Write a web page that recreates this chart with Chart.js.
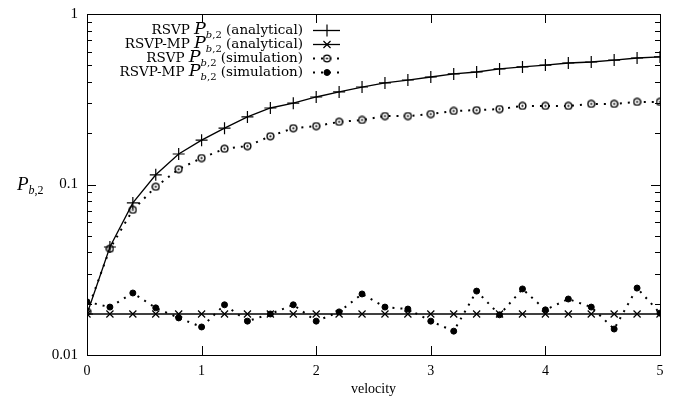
<!DOCTYPE html>
<html><head><meta charset="utf-8">
<script src="https://cdn.jsdelivr.net/npm/chart.js@4/dist/chart.umd.min.js"></script>
<style>html,body{margin:0;padding:0;background:#fff}#wrap{width:677px;height:398px;position:relative}</style>
</head><body><div id="wrap"><canvas id="c" width="677" height="398"></canvas></div>
<script>
const velocity = [0,0.2,0.4,0.6,0.8,1.0,1.2,1.4,1.6,1.8,2.0,2.2,2.4,2.6,2.8,3.0,3.2,3.4,3.6,3.8,4.0,4.2,4.4,4.6,4.8,5.0];
const rsvpAnalytical = [0.0174,0.043,0.078,0.114,0.151,0.182,0.214,0.249,0.281,0.300,0.326,0.349,0.373,0.394,0.410,0.427,0.445,0.457,0.476,0.489,0.502,0.516,0.523,0.537,0.552,0.560];
const rsvpMpAnalytical = [0.0174,0.0174,0.0174,0.0174,0.0174,0.0174,0.0174,0.0174,0.0174,0.0174,0.0174,0.0174,0.0174,0.0174,0.0174,0.0174,0.0174,0.0174,0.0174,0.0174,0.0174,0.0174,0.0174,0.0174,0.0174,0.0174];
const rsvpSimulation = [0.018,0.042,0.071,0.097,0.123,0.143,0.162,0.168,0.192,0.214,0.220,0.233,0.239,0.252,0.252,0.259,0.270,0.273,0.277,0.289,0.289,0.289,0.297,0.297,0.305,0.305];
const rsvpMpSimulation = [0.0205,0.0191,0.0231,0.0189,0.0165,0.0146,0.0197,0.0158,0.0174,0.0197,0.0158,0.0179,0.0228,0.0191,0.0186,0.0158,0.0138,0.0237,0.0172,0.0244,0.0184,0.0213,0.0191,0.0142,0.0247,0.0176];
const yTickValues = [0.01,0.1,1];
const yTickLabels = ['0.01','0.1','1'];
const xTickValues = [0,1,2,3,4,5];
const seriesNames = ['RSVP','RSVP-MP','RSVP','RSVP-MP'];
const seriesKinds = ['(analytical)','(analytical)','(simulation)','(simulation)'];

const SERIF = '"Liberation Serif","DejaVu Serif",serif';
const LSERIF = '"DejaVu Serif","Liberation Serif",serif';
const pts = arr => velocity.map((v,i)=>({x:v,y:arr[i]}));

// circle-with-dot marker
const ring = document.createElement('canvas');
ring.width = 9; ring.height = 9;
(()=>{const g=ring.getContext('2d');g.fillStyle='#fff';g.beginPath();g.arc(4.5,4.5,3.4,0,Math.PI*2);g.fill();
g.strokeStyle='#000';g.lineWidth=1.4;g.stroke();g.fillStyle='#000';g.beginPath();g.arc(4.5,4.5,1.1,0,Math.PI*2);g.fill();})();

const framePlugin = {
  id:'frame',
  afterDraw(chart){
    const ctx = chart.ctx, a = chart.chartArea, xs = chart.scales.x, ys = chart.scales.y;
    ctx.save();
    ctx.strokeStyle = '#000'; ctx.lineWidth = 1;
    ctx.strokeRect(Math.round(a.left)+0.5, Math.round(a.top)+0.5, Math.round(a.right-a.left), Math.round(a.bottom-a.top));
    ctx.beginPath();
    for (let e=-2;e<0;e++){
      for (let m=1;m<=10;m++){
        const v = m*Math.pow(10,e);
        const y = Math.round(ys.getPixelForValue(v))+0.5;
        const len = (m===1||m===10)?9:5;
        ctx.moveTo(a.left,y); ctx.lineTo(a.left+len,y);
        ctx.moveTo(a.right,y); ctx.lineTo(a.right-len,y);
      }
    }
    xTickValues.forEach(v=>{
      const x = Math.round(xs.getPixelForValue(v))+0.5;
      ctx.moveTo(x,a.bottom); ctx.lineTo(x,a.bottom-9);
      ctx.moveTo(x,a.top); ctx.lineTo(x,a.top+9);
    });
    ctx.stroke();

    ctx.fillStyle = '#000';
    ctx.textBaseline = 'alphabetic';
    const drawMath = (xPos, yBase, prefix, suffix, big, small, alignRight, fam) => {
      const parts = [];
      if (prefix) parts.push([prefix, big+'px '+fam, 0]);
      parts.push(['P', 'italic '+(big+4)+'px '+fam, 0]);
      parts.push(['b', 'italic '+small+'px '+fam, 4]);
      parts.push([',2', small+'px '+fam, 4]);
      if (suffix) parts.push([suffix, big+'px '+fam, 0]);
      let w = 0;
      parts.forEach(p=>{ctx.font=p[1]; p.push(ctx.measureText(p[0]).width); w+=p[3];});
      let x = alignRight ? xPos - w : xPos;
      parts.forEach(p=>{ctx.font=p[1]; ctx.fillText(p[0], x, yBase+p[2]); x+=p[3];});
    };
    drawMath(17, 190, '', '', 15, 12, false, SERIF);

    [0,1,2,3].forEach(i=>{
      const yc = a.top + 16 + i*14;
      const ds = chart.data.datasets[i];
      drawMath(a.left+216, yc+4, seriesNames[i]+' ', ' '+seriesKinds[i], 13.5, 10, true, LSERIF);
      const x0 = a.left+226, x1 = a.left+253, xm = a.left+240;
      ctx.save();
      ctx.strokeStyle='#000';
      ctx.lineWidth = ds.borderWidth;
      ctx.setLineDash(ds.borderDash||[]);
      ctx.beginPath(); ctx.moveTo(x0,yc+0.5); ctx.lineTo(x1,yc+0.5); ctx.stroke();
      ctx.setLineDash([]);
      ctx.fillStyle = ds.backgroundColor;
      ctx.lineWidth = ds.pointBorderWidth||1;
      Chart.helpers.drawPoint(ctx,{pointStyle:ds.pointStyle,radius:ds.pointRadius,borderWidth:ds.pointBorderWidth||1,rotation:0},xm,yc+0.5);
      ctx.restore();
    });
    ctx.restore();
  }
};

new Chart(document.getElementById('c'),{
  type:'line',
  data:{datasets:[
    {label:'RSVP analytical',data:pts(rsvpAnalytical),borderColor:'#000',backgroundColor:'#000',borderWidth:1.3,pointStyle:'cross',pointRadius:6,pointBorderWidth:1.2,tension:0},
    {label:'RSVP-MP analytical',data:pts(rsvpMpAnalytical),borderColor:'#000',backgroundColor:'#000',borderWidth:1.3,pointStyle:'crossRot',pointRadius:5,pointBorderWidth:1.2,tension:0},
    {label:'RSVP simulation',data:pts(rsvpSimulation),borderColor:'#000',backgroundColor:'#fff',borderWidth:2,borderDash:[2,6],pointStyle:ring,pointRadius:4,pointBorderWidth:1.4,tension:0},
    {label:'RSVP-MP simulation',data:pts(rsvpMpSimulation),borderColor:'#000',backgroundColor:'#000',borderWidth:2,borderDash:[2,6],pointStyle:'circle',pointRadius:3,pointBorderWidth:1,tension:0}
  ]},
  options:{
    responsive:false,animation:false,
    layout:{padding:{top:14,right:17,left:0,bottom:0}},
    plugins:{legend:{display:false},tooltip:{enabled:false}},
    scales:{
      x:{type:'linear',min:0,max:5,
        grid:{display:false},border:{display:false},
        afterBuildTicks(s){s.ticks = xTickValues.map(v=>({value:v}));},
        ticks:{color:'#000',font:{family:SERIF,size:14},padding:0,maxRotation:0,callback:v=>String(v)},
        title:{display:true,text:'velocity',color:'#000',font:{family:SERIF,size:14},padding:{top:4,bottom:0}},
        afterFit(s){s.height = 43;}
      },
      y:{type:'logarithmic',min:0.01,max:1,
        grid:{display:false},border:{display:false},
        afterBuildTicks(s){s.ticks = yTickValues.map(v=>({value:v}));},
        ticks:{color:'#000',font:{family:SERIF,size:15},padding:1,autoSkip:false,
          major:{enabled:false},
          callback:v=>{const i=yTickValues.findIndex(t=>Math.abs(t-v)<1e-9);return i>=0?yTickLabels[i]:'';}},
        afterFit(s){s.width = 87;}
      }
    }
  },
  plugins:[framePlugin]
});
</script></body></html>
